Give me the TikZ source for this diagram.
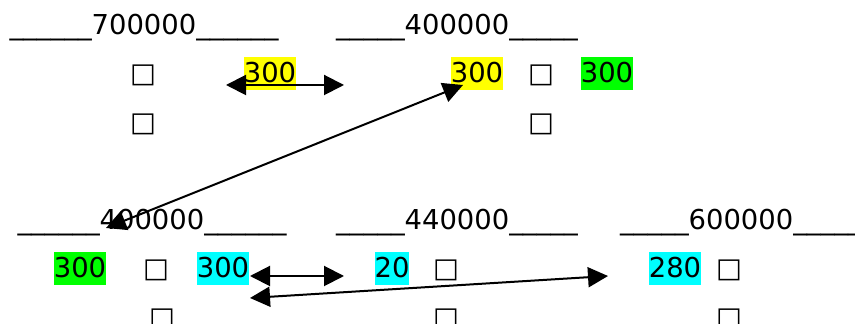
\documentclass[tikz,border=0pt]{standalone}
\usepackage{fontspec}
\setmainfont{DejaVu Sans}
\usetikzlibrary{arrows.meta}
\definecolor{celeste}{RGB}{0,255,255}
\definecolor{amarillo}{RGB}{255,255,0}
\definecolor{verde}{RGB}{0,255,0}

\begin{document}
\begin{tikzpicture}[x=0.5pt, y=-0.5pt, <->, >={Triangle[length=10pt,width=10pt]}, line width=1pt,
  every node/.style={font=\fontsize{13.7}{16}\selectfont, anchor=base, inner sep=0pt},
  valor/.style={text height=13pt, text depth=3.5pt}]

\useasboundingbox (0,0) rectangle (855,324);

% Titulos de arriba
\node (t700) at (144,35) {\_\_\_\_\_\_700000\_\_\_\_\_\_};
\node (t400a) at (457,35) {\_\_\_\_\_400000\_\_\_\_\_};

% Primera caja
\node (c1a) at (143,83) {□};
\node (c1b) at (143,132) {□};
\node[valor, fill=amarillo] (y1) at (270,83) {300};

% Segunda caja
\node[valor, fill=amarillo] (y2) at (477,83) {300};
\node (c2a) at (541,83) {□};
\node (c2b) at (541,132) {□};
\node[valor, fill=verde] (g1) at (607,83) {300};

% Titulos de abajo
\node (t400b) at (152,230) {\_\_\_\_\_\_400000\_\_\_\_\_\_};
\node (t440) at (457,230) {\_\_\_\_\_440000\_\_\_\_\_};
\node (t600) at (741,230) {\_\_\_\_\_600000\_\_\_\_\_};

% Cajas de abajo
\node[valor, fill=verde] (g2) at (80,278) {300};
\node (c3a) at (156,278) {□};
\node[valor, fill=celeste] (b1) at (223,278) {300};
\node (c3b) at (162,327) {□};

\node[valor, fill=celeste] (b2) at (392,278) {20};
\node (c4a) at (446,278) {□};
\node (c4b) at (446,327) {□};

\node[valor, fill=celeste] (b3) at (675,278) {280};
\node (c5a) at (729,278) {□};
\node (c5b) at (729,327) {□};

% Extremos de las flechas
\coordinate (p1) at (226,85);
\coordinate (p2) at (344,85);
\coordinate (p3) at (463,85);
\coordinate (p4) at (106,228);
\coordinate (p5) at (250,276);
\coordinate (p6) at (344,276);
\coordinate (p7) at (250,298);
\coordinate (p8) at (608,276);

% Flechas
\draw (p1) -- (p2);
\draw (p3) -- (p4);
\draw (p5) -- (p6);
\draw (p7) -- (p8);

\end{tikzpicture}
\end{document}
